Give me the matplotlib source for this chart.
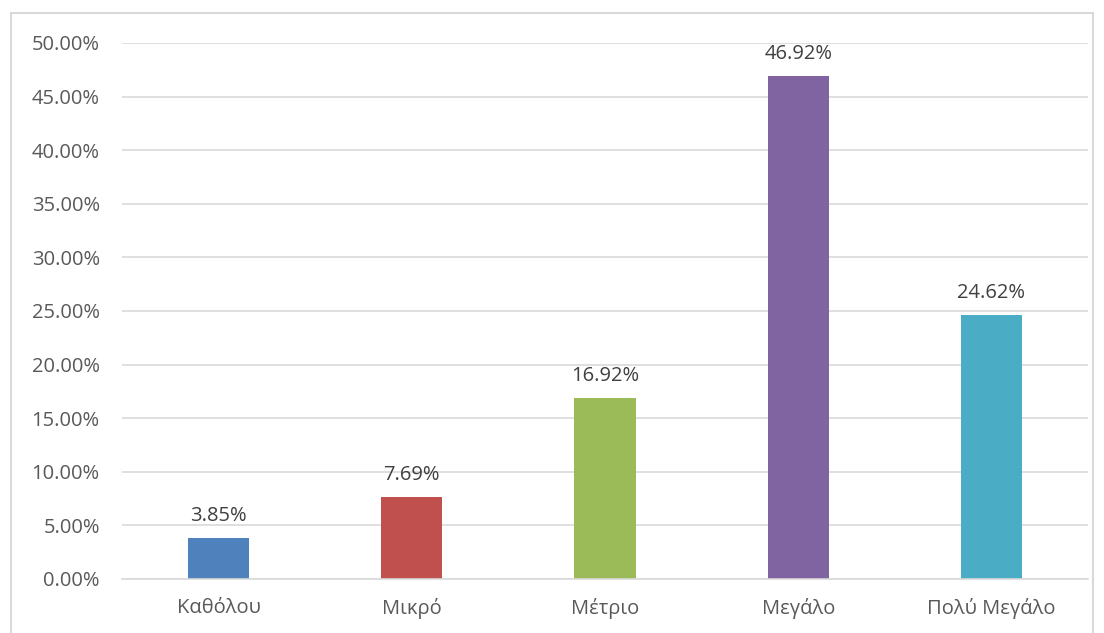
import matplotlib
matplotlib.use("Agg")
import matplotlib.pyplot as plt
from matplotlib.patches import Rectangle
from matplotlib.ticker import FuncFormatter

# Data
categories = ["Καθόλου", "Μικρό", "Μέτριο", "Μεγάλο", "Πολύ Μεγάλο"]
values = [3.85, 7.69, 16.92, 46.92, 24.62]
colors = ["#4F81BD", "#C0504D", "#9BBB59", "#8064A2", "#4BACC6"]

plt.rcParams["font.family"] = ["Open Sans", "DejaVu Sans"]
text_color = "#595959"

W, H = 1104, 633
fig = plt.figure(figsize=(W / 100, H / 100), dpi=100)

# chart border (extends past bottom edge like the reference)
fig.patches.append(Rectangle((11 / W, -0.05), (1093 - 11) / W, 1 - 13 / H + 0.05,
                             transform=fig.transFigure, fill=False,
                             edgecolor="#D9D9D9", linewidth=1.5))

ax = fig.add_axes([122 / W, 1 - 579 / H, (1088 - 122) / W, (579 - 43) / H])

x = range(len(categories))
ax.bar(x, values, width=0.316, color=colors, zorder=2)
for xi, v in zip(x, values):
    ax.text(xi, v + 1.1, f"{v:.2f}%", ha="center", va="bottom",
            fontsize=14.5, color="#404040")

ax.set_xlim(-0.5, len(categories) - 0.5)
ax.set_ylim(0, 50)
ax.set_yticks([i * 5 for i in range(11)])
ax.yaxis.set_major_formatter(FuncFormatter(lambda v, p: f"{v:.2f}%"))
ax.set_xticks(list(x))
ax.set_xticklabels(categories)
ax.grid(axis="y", color="#D9D9D9", linewidth=1.2, zorder=0)
for s in ["top", "right", "left"]:
    ax.spines[s].set_visible(False)
ax.spines["bottom"].set_color("#D9D9D9")
ax.spines["bottom"].set_linewidth(1.2)
ax.tick_params(axis="both", length=0, labelsize=14.5, labelcolor=text_color)
ax.tick_params(axis="y", pad=16)
ax.tick_params(axis="x", pad=14)

fig.savefig("out.png", dpi=100)
